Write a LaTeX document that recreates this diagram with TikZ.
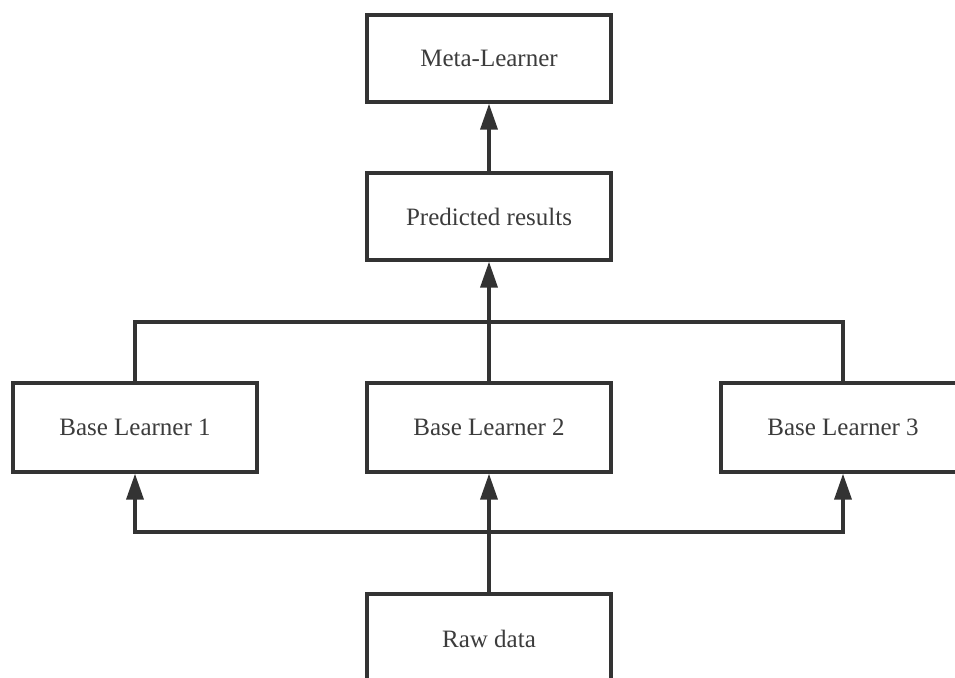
\documentclass[tikz,border=0pt]{standalone}
\usepackage{fontspec}
\setmainfont{Liberation Serif}
\usetikzlibrary{arrows.meta}
\definecolor{lineC}{HTML}{333333}
\definecolor{textC}{HTML}{3C3C3C}
\begin{document}
\begin{tikzpicture}[x=1pt,y=-1pt,
  box/.style={draw=lineC, line width=3.3pt, minimum width=244pt, minimum height=87pt, inner sep=0pt,
    font=\fontsize{25}{30}\selectfont, text=textC, fill=white},
  conn/.style={draw=lineC, line width=3.6pt},
  arr/.style={conn, -{Triangle[length=26pt,width=17pt]}}]
\useasboundingbox (0,0) rectangle (955,677);
\clip (0,0) rectangle (955,677);
\node[box] (meta) at (489,58.5) {Meta-Learner};
\node[box] (pred) at (489,216.5) {Predicted results};
\node[box, minimum height=89pt] (b1) at (135,427.5) {Base Learner 1};
\node[box, minimum height=89pt] (b2) at (489,427.5) {Base Learner 2};
\node[box, minimum height=89pt] (b3) at (843,427.5) {Base Learner 3};
\node[box, minimum height=89pt] (raw) at (489,638.5) {Raw data};
\coordinate (topbus) at (489,322);
\coordinate (botbus) at (489,532);
\draw[arr] (pred.north) -- (meta.south);
\draw[arr] (b2.north) -- (pred.south);
\draw[conn] (b1.north) |- (topbus) -| (b3.north);
\draw[arr] (raw.north) -- (b2.south);
\draw[arr] (botbus) -| (b1.south);
\draw[arr] (botbus) -| (b3.south);
\end{tikzpicture}
\end{document}
